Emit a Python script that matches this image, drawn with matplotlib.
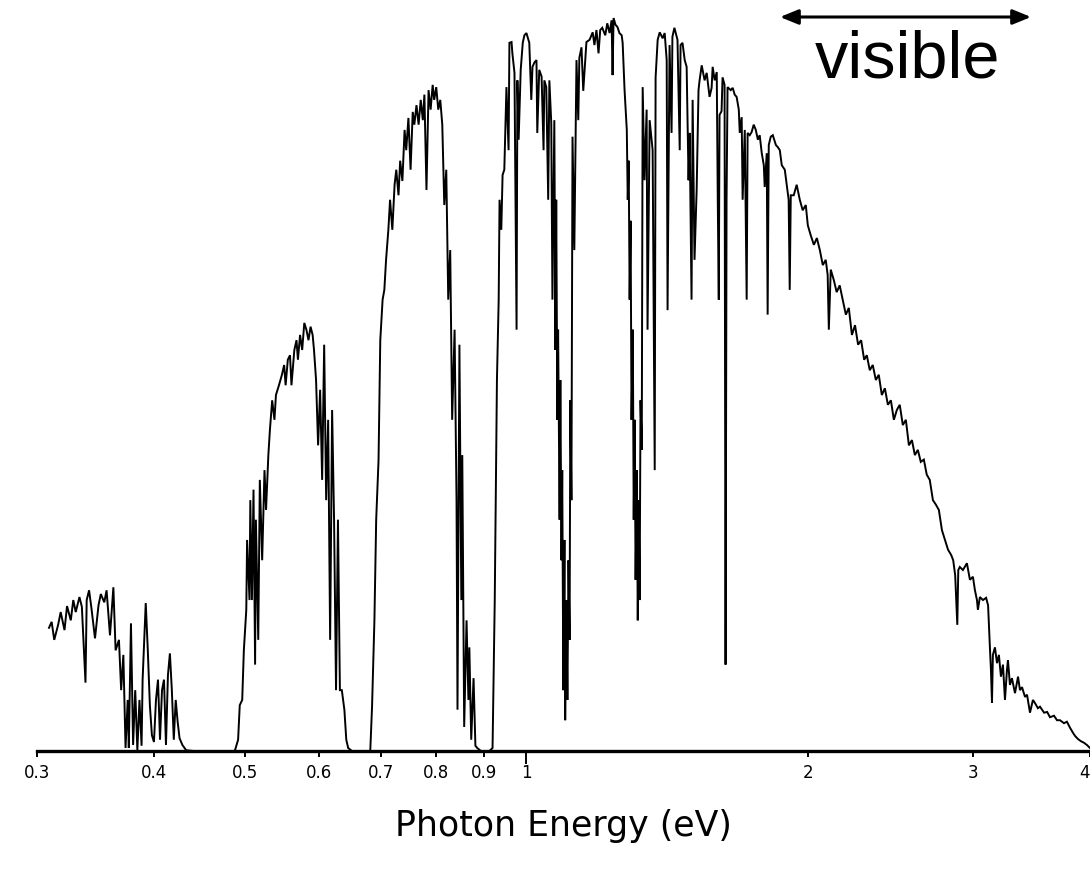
import matplotlib
matplotlib.use("Agg")
import matplotlib.pyplot as plt
from matplotlib.ticker import FixedLocator, NullFormatter

# spectrum, photon energy (eV) vs relative irradiance
band1_e = [0.309, 0.311, 0.313, 0.316, 0.318, 0.321, 0.323, 0.326, 0.328, 0.330,
           0.333, 0.335, 0.338, 0.339, 0.341, 0.343, 0.346, 0.349, 0.351, 0.354,
           0.356, 0.359, 0.362, 0.364, 0.367, 0.369, 0.371, 0.373, 0.375, 0.376,
           0.378, 0.380, 0.382, 0.384, 0.386, 0.388, 0.389, 0.392, 0.394, 0.396,
           0.398, 0.400, 0.402, 0.404, 0.406, 0.408, 0.410, 0.412, 0.414, 0.416,
           0.418, 0.420, 0.422, 0.424, 0.426, 0.429, 0.433, 0.441]
band1_v = [16.4, 17.2, 14.8, 16.8, 18.5, 16.1, 19.3, 17.4, 20.1, 18.5,
           20.5, 19.2, 9.1, 20.1, 21.4, 19.0, 15.0, 19.4, 20.9, 19.8,
           21.4, 15.4, 21.8, 13.4, 14.8, 8.1, 12.8, 0.4, 6.8, 0.4,
           17.0, 0.8, 8.1, 0.1, 6.8, 0.7, 9.5, 19.7, 13.4, 6.1,
           2.1, 1.2, 6.8, 9.5, 1.5, 8.1, 9.5, 0.8, 10.1, 13.0,
           8.1, 1.5, 6.8, 3.9, 1.7, 0.8, 0.1, 0.0]

band2_e = [0.488, 0.492, 0.494, 0.497, 0.499, 0.502, 0.503, 0.506, 0.507, 0.509,
           0.511, 0.513, 0.514, 0.517, 0.519, 0.522, 0.525, 0.527, 0.530, 0.532,
           0.535, 0.538, 0.540, 0.544, 0.548, 0.551, 0.553, 0.556, 0.559, 0.561,
           0.565, 0.568, 0.570, 0.573, 0.576, 0.579, 0.582, 0.585, 0.588, 0.591,
           0.593, 0.596, 0.599, 0.602, 0.605, 0.608, 0.611, 0.614, 0.617, 0.620,
           0.623, 0.626, 0.629, 0.632, 0.635, 0.639, 0.642, 0.645, 0.651]
band2_v = [0.0, 1.5, 6.1, 6.8, 13.4, 18.8, 28.1, 20.1, 33.4, 20.1,
           34.8, 11.5, 30.8, 14.8, 36.1, 25.4, 37.4, 32.1, 39.4, 42.7,
           46.7, 44.1, 47.4, 48.7, 50.1, 51.4, 48.7, 52.1, 52.7, 48.7,
           53.4, 54.7, 52.1, 55.4, 53.4, 57.0, 56.1, 54.7, 56.5, 55.4,
           53.4, 49.4, 40.7, 48.1, 36.1, 54.1, 33.4, 44.1, 14.8, 45.4,
           30.8, 8.1, 30.8, 8.1, 8.1, 5.5, 1.5, 0.4, 0.0]

band3_e = [0.681, 0.684, 0.688, 0.691, 0.695, 0.698, 0.702, 0.705, 0.708, 0.712,
           0.715, 0.719, 0.723, 0.726, 0.730, 0.733, 0.737, 0.741, 0.744, 0.748,
           0.752, 0.756, 0.759, 0.763, 0.767, 0.771, 0.775, 0.778, 0.782, 0.786,
           0.790, 0.794, 0.797, 0.801, 0.805, 0.809, 0.813, 0.817, 0.821, 0.825,
           0.829, 0.833, 0.838, 0.842, 0.844, 0.848, 0.852, 0.854, 0.858, 0.863,
           0.867, 0.869, 0.873, 0.878, 0.882, 0.886, 0.894]
band3_v = [0.0, 5.9, 17.4, 30.8, 38.7, 54.7, 60.1, 61.4, 65.4, 69.4,
           73.4, 69.4, 75.4, 77.4, 74.0, 78.6, 75.9, 82.7, 80.0, 84.3,
           77.4, 85.1, 83.4, 86.0, 83.4, 86.7, 84.0, 87.4, 74.7, 88.0,
           85.4, 88.7, 86.7, 88.4, 85.4, 86.7, 83.4, 72.7, 77.4, 60.1,
           66.7, 44.1, 56.1, 33.4, 5.5, 54.1, 20.1, 39.4, 3.2, 17.4,
           6.8, 13.8, 1.5, 9.7, 0.7, 0.4, 0.0]

band4_e = [0.913, 0.920, 0.925, 0.930, 0.934, 0.936, 0.940, 0.943, 0.947, 0.952,
           0.957, 0.959, 0.964, 0.966, 0.971, 0.976, 0.978, 0.981, 0.986, 0.991,
           0.995, 1.000, 1.005, 1.007, 1.012, 1.015, 1.020, 1.025, 1.027, 1.032,
           1.038, 1.043, 1.045, 1.050, 1.055, 1.058, 1.063, 1.066, 1.071, 1.074,
           1.076, 1.079, 1.081, 1.085, 1.087, 1.090, 1.092, 1.095, 1.098, 1.100,
           1.103, 1.106, 1.109, 1.112, 1.114, 1.117, 1.120, 1.125, 1.131, 1.136,
           1.139, 1.145, 1.150, 1.159, 1.168, 1.177, 1.182, 1.188, 1.194, 1.199,
           1.205, 1.214, 1.220, 1.227, 1.233, 1.236, 1.239, 1.245, 1.251, 1.257,
           1.264, 1.267, 1.273, 1.280, 1.283, 1.286, 1.289, 1.292, 1.295, 1.299,
           1.302, 1.305, 1.308, 1.312, 1.315, 1.318, 1.321, 1.324, 1.328, 1.331,
           1.337, 1.344, 1.347, 1.354, 1.364, 1.371, 1.374, 1.381, 1.388, 1.398,
           1.405, 1.412, 1.415, 1.422, 1.429, 1.432, 1.439, 1.450, 1.458, 1.461,
           1.468, 1.476, 1.483, 1.490, 1.494, 1.501, 1.505, 1.512, 1.520, 1.527,
           1.531, 1.539, 1.550, 1.558, 1.569, 1.577, 1.581, 1.589, 1.597, 1.601,
           1.605, 1.608, 1.616, 1.620, 1.628, 1.632, 1.636, 1.640, 1.653, 1.661,
           1.669, 1.677, 1.686, 1.690, 1.698, 1.702, 1.711, 1.719, 1.723, 1.732,
           1.740, 1.749, 1.758, 1.767, 1.775, 1.784, 1.793, 1.797, 1.806, 1.810,
           1.815, 1.824, 1.833, 1.847, 1.856, 1.865, 1.874, 1.888, 1.897, 1.906,
           1.911, 1.916, 1.930, 1.944, 1.959, 1.973, 1.988, 1.998, 2.012, 2.028,
           2.043, 2.058, 2.073, 2.088, 2.098, 2.104, 2.114, 2.130, 2.145, 2.161,
           2.177, 2.194, 2.210, 2.227, 2.244, 2.261, 2.278, 2.295, 2.310, 2.327,
           2.344, 2.362, 2.379, 2.397, 2.415, 2.433, 2.451, 2.469, 2.487, 2.505,
           2.524, 2.543, 2.562, 2.581, 2.600, 2.619, 2.638, 2.658, 2.677, 2.697,
           2.718, 2.738, 2.758, 2.779, 2.800, 2.821, 2.843, 2.857, 2.871, 2.886,
           2.893, 2.904, 2.926, 2.955, 2.977, 2.999, 3.014, 3.029, 3.036, 3.051,
           3.074, 3.098, 3.113, 3.121, 3.127, 3.135, 3.143, 3.150, 3.166, 3.182,
           3.197, 3.213, 3.229, 3.245, 3.261, 3.269, 3.285, 3.301, 3.326, 3.351,
           3.367, 3.384, 3.409, 3.426, 3.451, 3.476, 3.493, 3.519, 3.537, 3.573,
           3.600, 3.625, 3.661, 3.688, 3.715, 3.752, 3.779, 3.808, 3.837, 3.856,
           3.883, 3.912, 3.941, 3.970, 4.000]
band4_v = [0.0, 0.4, 20.1, 49.4, 60.1, 73.4, 69.4, 76.7, 77.4, 88.4,
           80.0, 94.3, 94.4, 92.9, 90.3, 56.1, 89.3, 81.4, 90.7, 94.3,
           95.3, 95.6, 94.7, 94.3, 86.7, 91.1, 91.7, 92.0, 82.3, 90.7,
           89.8, 80.0, 89.3, 88.4, 73.4, 89.3, 83.6, 60.1, 84.0, 53.4,
           73.4, 44.1, 56.1, 30.8, 49.4, 25.4, 37.4, 8.1, 28.1, 4.1,
           20.1, 6.8, 25.4, 14.8, 46.7, 33.4, 81.8, 66.7, 92.0, 84.0,
           92.3, 93.7, 87.9, 94.4, 94.7, 95.7, 94.0, 96.0, 92.9, 96.0,
           96.3, 95.3, 96.9, 95.6, 97.3, 90.0, 97.6, 96.7, 96.4, 95.6,
           95.3, 94.3, 88.0, 82.7, 73.4, 78.6, 60.1, 70.6, 44.1, 56.1,
           30.8, 44.1, 22.8, 37.4, 17.4, 33.4, 20.1, 46.7, 40.1, 88.4,
           76.0, 85.4, 56.1, 84.0, 80.0, 37.4, 89.7, 94.7, 95.7, 94.9,
           95.6, 92.0, 58.7, 94.0, 82.3, 95.1, 96.3, 94.7, 80.0, 94.0,
           94.3, 92.0, 91.1, 76.0, 82.3, 60.1, 86.7, 65.4, 74.7, 88.0,
           89.3, 91.3, 89.3, 90.3, 87.1, 88.3, 91.1, 89.3, 90.4, 73.4,
           60.1, 84.7, 85.2, 89.7, 88.7, 11.5, 73.4, 88.4, 88.0, 88.3,
           87.4, 87.1, 85.4, 82.3, 84.4, 73.4, 82.7, 60.1, 82.3, 82.0,
           82.4, 83.4, 82.7, 81.4, 82.0, 79.6, 78.0, 75.1, 79.6, 58.1,
           80.7, 81.8, 82.0, 80.7, 80.4, 80.0, 78.0, 77.4, 75.4, 73.4,
           61.4, 74.0, 74.0, 75.4, 73.4, 72.0, 72.7, 70.0, 68.7, 67.4,
           68.3, 66.7, 64.7, 65.4, 63.4, 56.1, 64.1, 62.7, 61.1, 62.0,
           60.1, 58.1, 59.0, 55.4, 56.7, 54.1, 54.7, 52.1, 52.7, 50.7,
           51.4, 49.4, 50.1, 47.4, 48.3, 46.1, 46.7, 44.1, 45.4, 46.1,
           43.4, 44.1, 40.7, 41.4, 39.4, 40.1, 38.5, 38.8, 36.8, 36.1,
           33.4, 32.8, 32.1, 29.4, 28.1, 26.8, 26.1, 25.4, 23.4, 16.8,
           24.1, 24.5, 24.1, 25.0, 22.8, 23.2, 21.4, 20.1, 18.8, 20.5,
           20.1, 20.4, 19.4, 16.1, 13.8, 10.8, 6.4, 12.8, 13.8, 11.7,
           12.8, 9.9, 11.5, 6.8, 10.8, 12.1, 8.8, 9.7, 7.7, 9.9,
           8.1, 8.5, 7.2, 7.5, 5.1, 6.8, 6.4, 5.7, 5.9, 5.1,
           5.2, 4.5, 4.7, 4.1, 4.1, 3.7, 3.9, 3.1, 2.4, 2.0,
           1.6, 1.3, 1.1, 0.8, 0.4]

tick_vals = [0.3, 0.4, 0.5, 0.6, 0.7, 0.8, 0.9, 1, 2, 3, 4]
tick_text = ["0.3", "0.4", "0.5", "0.6", "0.7", "0.8", "0.9", "1", "2", "3", "4"]

fig = plt.figure(figsize=(10.9, 8.8), dpi=100)
ax = fig.add_axes([37/1090, 129/880, 1053/1090, 751/880])

for e, v in [(band1_e, band1_v), (band2_e, band2_v), (band3_e, band3_v), (band4_e, band4_v)]:
    ax.plot(e, v, color="black", lw=1.4, solid_joinstyle="miter")

ax.set_xscale("log")
ax.set_xlim(0.3, 4.0)
ax.set_ylim(0, 100)

for s in ["left", "right", "top"]:
    ax.spines[s].set_visible(False)
ax.spines["bottom"].set_linewidth(2.4)
ax.set_yticks([])

# the "1" tick is drawn longer than the rest
ax.xaxis.set_major_locator(FixedLocator([1]))
ax.xaxis.set_minor_locator(FixedLocator([t for t in tick_vals if t != 1]))
ax.xaxis.set_major_formatter(NullFormatter())
ax.xaxis.set_minor_formatter(NullFormatter())
ax.tick_params(axis="x", which="major", length=9, width=1.4, color="black")
ax.tick_params(axis="x", which="minor", length=4.5, width=1.4, color="black")

trans = ax.get_xaxis_transform()
for t, lab in zip(tick_vals, tick_text):
    # last label sits at the right edge of the figure
    ha = "right" if t == tick_vals[-1] else "center"
    ax.text(t, -22/751, lab, transform=trans, ha=ha, va="center",
            fontsize=12, family="DejaVu Sans")

fig.text(563/1090, 1 - 826/880, "Photon Energy (eV)", ha="center", va="center",
         fontsize=25, family="DejaVu Sans")

fig.text(908/1090, 1 - 78/880, "visible", ha="center", va="baseline",
         fontsize=48, family="Liberation Sans")
ax.annotate("", xy=(1031/1090, 1 - 17/880), xytext=(780/1090, 1 - 17/880),
            xycoords="figure fraction", textcoords="figure fraction",
            arrowprops=dict(arrowstyle="<|-|>,head_length=1.1,head_width=0.45",
                            color="black", lw=2.2, shrinkA=0, shrinkB=0))

fig.savefig("out.png", dpi=100)
